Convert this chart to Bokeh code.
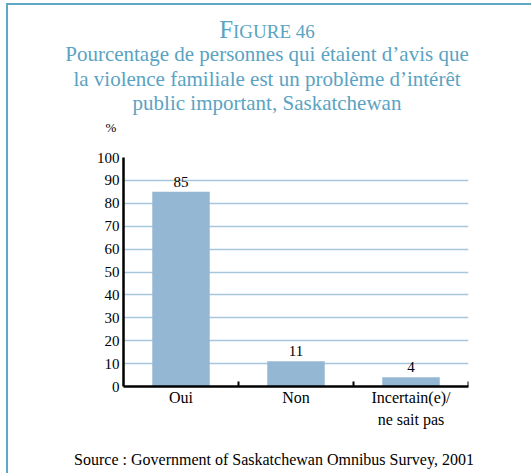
from bokeh.plotting import figure
from bokeh.layouts import column
from bokeh.models import (ColumnDataSource, FactorRange, Range1d, FixedTicker,
                          LabelSet, Div)
from bokeh.core.properties import value
from bokeh.embed import file_html
from bokeh.resources import INLINE

# ---- data ----
cat_line1 = ["Oui", "Non", "Incertain(e)/"]
cat_line2 = ["", "", "ne sait pas"]
percent = [85, 11, 4]
y_ticks = [0, 10, 20, 30, 40, 50, 60, 70, 80, 90, 100]
boundaries = [1, 2, 3]

figure_no = ("F", "IGURE 46")
title_lines = [
    "Pourcentage de personnes qui étaient d\u2019avis que",
    "la violence familiale est un problème d\u2019intérêt",
    "public important, Saskatchewan",
]
y_unit = "%"
source_note = "Source : Government of Saskatchewan Omnibus Survey, 2001"

TITLE_COLOR = "#5aa3c2"
BAR_COLOR = "#94b8d3"
GRID_COLOR = "#a6c8de"
BORDER_COLOR = "#5fa8c6"
SERIF = "Liberation Serif"

W = 523
HT, HM, HB = 142, 283, 43

# ---- top: titles (HTML text) ----
top_html = (
    f'<div style="position:relative;width:{W}px;height:{HT}px;'
    f'font-family:\'{SERIF}\',serif;color:{TITLE_COLOR};">'
    f'<div style="position:absolute;left:0;top:10px;width:518px;text-align:center;'
    f'font-size:25px;line-height:30px;white-space:nowrap;">'
    f'{figure_no[0]}<span style="font-size:19px;">{figure_no[1]}</span></div>'
    f'<div style="position:absolute;left:0;top:37px;width:518px;text-align:center;'
    f'font-size:21px;line-height:24.5px;white-space:nowrap;">'
    + "<br>".join(title_lines) +
    '</div>'
    f'<div style="position:absolute;left:93px;top:115px;width:20px;text-align:center;'
    f'font-size:13px;line-height:15px;color:black;">{y_unit}</div>'
    '</div>'
)
top = Div(text=top_html, width=W, height=HT, margin=0)

# ---- main chart ----
factors = list(zip(cat_line2, cat_line1))
p = figure(width=W, height=HM, output_backend="svg", toolbar_location=None,
           x_range=FactorRange(factors=factors, range_padding=0,
                               factor_padding=0, group_padding=0),
           y_range=Range1d(0, 100),
           min_border_left=115, min_border_right=63,
           min_border_top=10, min_border_bottom=43, margin=0)
p.title.visible = False
p.outline_line_color = None

src = ColumnDataSource(dict(cat=factors, val=percent,
                            txt=[str(v) for v in percent]))
p.vbar(x="cat", top="val", width=0.5, source=src, color=BAR_COLOR, line_color=None)

p.segment(x0=boundaries, y0=[0] * 3, x1=boundaries, y1=[2.2] * 3,
          line_color="black", line_width=2)

p.add_layout(LabelSet(x="cat", y="val", text="txt", source=src,
                      text_align="center", text_baseline="alphabetic",
                      y_offset=5, text_font=value(SERIF),
                      text_font_size="15px", text_color="black"))

p.xgrid.visible = False
p.ygrid.grid_line_color = GRID_COLOR
p.ygrid.grid_line_width = 1.3
p.yaxis.ticker = FixedTicker(ticks=y_ticks)
p.yaxis.axis_line_width = 2.5
p.yaxis.axis_line_color = "black"
p.yaxis.major_tick_line_color = None
p.yaxis.major_tick_out = 0
p.yaxis.major_tick_in = 0
p.yaxis.minor_tick_line_color = None
p.yaxis.major_label_standoff = 4
p.yaxis.major_label_text_font = SERIF
p.yaxis.major_label_text_font_size = "15px"
p.yaxis.major_label_text_color = "black"

p.xaxis.axis_line_width = 2.5
p.xaxis.axis_line_color = "black"
p.xaxis.major_tick_line_color = None
p.xaxis.major_tick_out = 0
p.xaxis.major_tick_in = 0
p.xaxis.major_label_standoff = 2
p.xaxis.major_label_text_font = SERIF
p.xaxis.major_label_text_font_size = "16px"
p.xaxis.major_label_text_color = "black"
p.xaxis.group_text_font = SERIF
p.xaxis.group_text_font_size = "16px"
p.xaxis.group_text_font_style = "normal"
p.xaxis.group_text_color = "black"
p.xaxis.separator_line_color = None

# ---- bottom: source (HTML text) ----
bot_html = (
    f'<div style="position:relative;width:{W}px;height:{HB}px;'
    f'font-family:\'{SERIF}\',serif;color:black;">'
    f'<div style="position:absolute;left:0;top:20px;width:532px;text-align:center;'
    f'font-size:16px;line-height:20px;white-space:nowrap;">{source_note}</div>'
    '</div>'
)
bot = Div(text=bot_html, width=W, height=HB, margin=0)

layout = column(top, p, bot, spacing=0,
                styles={"margin-left": "6px", "margin-top": "3px",
                        "border-left": f"2px solid {BORDER_COLOR}",
                        "border-top": f"2px solid {BORDER_COLOR}"})

open("out.html", "w").write(file_html(layout, INLINE))
